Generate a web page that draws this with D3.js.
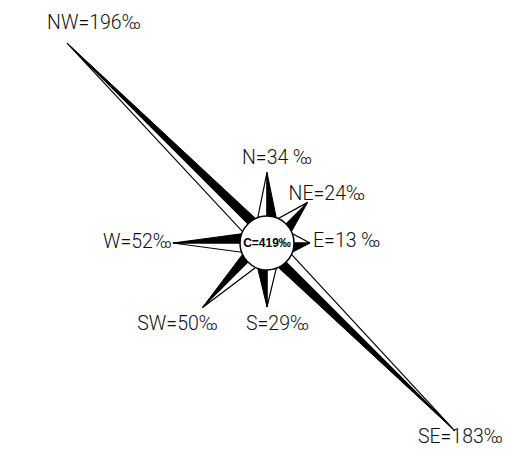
<!DOCTYPE html>
<html>
<head>
<meta charset="utf-8">
<script src="https://cdn.jsdelivr.net/npm/d3@7"></script>
<style>
  body { margin: 0; background: #fff; }
  svg { display: block; }
  .lbl { font-family: Roboto, "Liberation Sans", sans-serif; font-weight: 300; font-size: 19.5px; fill: #111; }
</style>
</head>
<body>
<div id="chart"></div>
<script>
// wind directions, clockwise from north
const directions = ["N", "NE", "E", "SE", "S", "SW", "W", "NW"];
const frequencies = [34, 24, 13, 183, 29, 50, 52, 196]; // per mille
const labelTexts = ["N=34 ‰", "NE=24‰", "E=13 ‰", "SE=183‰", "S=29‰", "SW=50‰", "W=52‰", "NW=196‰"];
const calmLabel = "C=419‰";

const width = 512, height = 453;
const cx = 267, cy = 243;
const hubR = 27;

// label placement relative to each tip
const labelPos = {
  N: [-25, -8, "start"], NE: [-19, -2, "start"], E: [3, 4, "start"],
  SE: [-37, 12, "start"], S: [-21, 23, "start"], SW: [-65, 22, "start"],
  W: [-1, 5, "end"], NW: [-20, -14, "start"]
};

const svg = d3.select("#chart").append("svg")
  .attr("width", width)
  .attr("height", height);

const g = svg.append("g").attr("transform", `translate(${cx},${cy})`);

// spike length grows from the hub edge
const len = d3.scaleLinear().domain([0, 196]).range([26, 26 + 1.31 * 196]);
const angle = d3.scalePoint().domain(directions).range([0, 315]);

const halfAngle = 20 * Math.PI / 180;
const pt = (a, r) => [r * Math.sin(a), -r * Math.cos(a)];

const spikes = directions.map((d, i) => {
  const a = angle(d) * Math.PI / 180;
  return {
    dir: d,
    tip: pt(a, len(frequencies[i])),
    cw: pt(a + halfAngle, hubR),
    ccw: pt(a - halfAngle, hubR),
    label: labelTexts[i]
  };
});

const line = d3.line();

// white half (counter-clockwise side), outlined
g.selectAll(".half-white")
  .data(spikes)
  .enter().append("path")
  .attr("class", "half-white")
  .attr("d", d => line([[0, 0], d.tip, d.ccw]) + "Z")
  .attr("fill", "#fff")
  .attr("stroke", "#000")
  .attr("stroke-width", 1.2)
  .attr("stroke-linejoin", "miter");

// black half (clockwise side)
g.selectAll(".half-black")
  .data(spikes)
  .enter().append("path")
  .attr("class", "half-black")
  .attr("d", d => line([[0, 0], d.tip, d.cw]) + "Z")
  .attr("fill", "#000")
  .attr("stroke", "#000")
  .attr("stroke-width", 1);

// calm circle
g.append("circle")
  .attr("r", hubR)
  .attr("fill", "#fff")
  .attr("stroke", "#000")
  .attr("stroke-width", 1.5);

g.append("text")
  .attr("text-anchor", "middle")
  .attr("y", 4)
  .style("font-family", "Liberation Sans, Arial, sans-serif")
  .style("font-size", "12px")
  .style("font-weight", "bold")
  .text(calmLabel);

g.selectAll(".lbl")
  .data(spikes)
  .enter().append("text")
  .attr("class", "lbl")
  .attr("x", d => d.tip[0] + labelPos[d.dir][0])
  .attr("y", d => d.tip[1] + labelPos[d.dir][1])
  .attr("text-anchor", d => labelPos[d.dir][2])
  .text(d => d.label);
</script>
</body>
</html>
